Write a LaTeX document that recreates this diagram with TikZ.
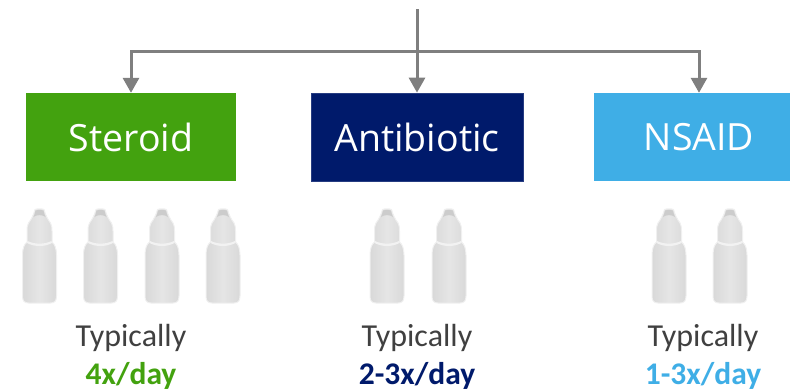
\documentclass[tikz,border=0pt]{standalone}
\usepackage{fontspec}
\setmainfont{Carlito}
\newfontfamily\boxfont{Open Sans}
\usetikzlibrary{arrows.meta}
\definecolor{cgreen}{HTML}{43A20F}
\definecolor{cnavy}{HTML}{001A6B}
\definecolor{cblue}{HTML}{3FAEE6}
\definecolor{cgray}{HTML}{7F7F7F}
\definecolor{ctext}{HTML}{404040}
\tikzset{
  x=1pt,y=-1pt,
  catbox/.style={minimum height=88pt,inner sep=0pt,text=white,font=\boxfont\fontsize{37.5}{40}\selectfont},
  conn/.style={draw=cgray,line width=3pt,-{Triangle[length=15pt,width=16pt]}},
  feed/.style={draw=cgray,line width=3pt},
  typ/.style={font=\fontsize{32}{36}\selectfont,text=ctext,inner sep=0pt},
  freq/.style={font=\bfseries\fontsize{31.5}{36}\selectfont,inner sep=0pt},
  pics/bottle/.style={code={
    \path[draw=black!6,line width=1pt,left color=black!15,right color=black!15,middle color=black!10]
      (-4.5,0.5) .. controls (-2,-0.5) and (2,-0.5) .. (4.5,0.5)
      .. controls (6,6) and (8,10) .. (11,14) .. controls (12,16) and (12.5,18) .. (12.5,22)
      -- (12.5,33) .. controls (15,35) and (17,39) .. (17,46) -- (17,87)
      .. controls (17,92) and (15,94) .. (11,94) -- (-11,94)
      .. controls (-15,94) and (-17,92) .. (-17,87) -- (-17,46)
      .. controls (-17,39) and (-15,35) .. (-12.5,33) -- (-12.5,22)
      .. controls (-12.5,18) and (-12,16) .. (-11,14)
      .. controls (-8,10) and (-6,6) .. (-4.5,0.5) -- cycle;
    \fill[black!20] (-4,1.5) .. controls (-1,0.5) and (1,0.5) .. (4,1.5)
      .. controls (4.5,4) and (5,6) .. (6,8) .. controls (3,5.5) and (-3,5.5) .. (-6,8)
      .. controls (-5,6) and (-4.5,4) .. (-4,1.5) -- cycle;
    \fill[black!5] (-12,32) .. controls (-5,35.5) and (5,35.5) .. (12,32) -- (12.5,34)
      .. controls (5,38) and (-5,38) .. (-12.5,34) -- cycle;
  }}
}
\begin{document}
\begin{tikzpicture}
\useasboundingbox (0,0) rectangle (790,391);
\node[catbox,fill=cgreen,minimum width=210pt] (steroid) at (131,137) {\raisebox{-2pt}{Steroid}};
\node[catbox,fill=cnavy,draw=cnavy!85!white,line width=0.7pt,minimum width=212pt] (anti) at (417,137) {\raisebox{-2pt}{Antibiotic}};
\node[catbox,fill=cblue,minimum width=210pt] (nsaid) at (699,137) {\raisebox{-2pt}{NSAID}};
\coordinate (top) at (417,9);
\coordinate (bar) at (417,51);
\draw[feed] (top) -- (bar);
\draw[conn] (bar) -- (anti.north);
\draw[conn] (bar) -| (steroid.north);
\draw[conn] (bar) -| (nsaid.north);
\foreach \x in {39.5,100.5,162,223,387,449,669,730}
  \pic at (\x,209) {bottle};
\node[typ] (t1) at (131,337.5) {Typically};
\node[freq,text=cgreen] (f1) at (131,376) {4x/day};
\node[typ] (t2) at (417,337.5) {Typically};
\node[freq,text=cnavy] (f2) at (417,376) {2-3x/day};
\node[typ] (t3) at (703,337.5) {Typically};
\node[freq,text=cblue] (f3) at (703,376) {1-3x/day};
\end{tikzpicture}
\end{document}
